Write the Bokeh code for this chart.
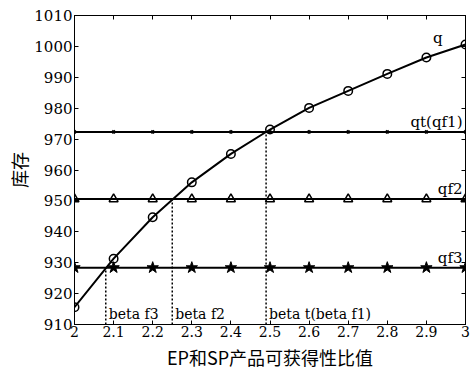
from bokeh.plotting import figure
from bokeh.models import Range1d, LinearAxis, FixedTicker, Label
from bokeh.embed import file_html
from bokeh.resources import INLINE

# ---- data ----
x_vals = [2.0, 2.1, 2.2, 2.3, 2.4, 2.5, 2.6, 2.7, 2.8, 2.9, 3.0]
q_vals = [915.6, 931.3, 944.7, 956.0, 965.2, 973.1, 980.1, 985.6, 991.1, 996.4, 1000.6]
qt_level = 972.3
qf2_level = 950.6
qf3_level = 928.4
beta_names = ["beta f3", "beta f2", "beta t(beta f1)"]
beta_x = [2.08, 2.25, 2.49]
beta_top = [qf3_level, qf2_level, qt_level]
x_ticks = [2.0, 2.1, 2.2, 2.3, 2.4, 2.5, 2.6, 2.7, 2.8, 2.9, 3.0]
y_ticks = [910, 920, 930, 940, 950, 960, 970, 980, 990, 1000, 1010]
x_tick_labels = {2.0: "2", 2.1: "2.1", 2.2: "2.2", 2.3: "2.3", 2.4: "2.4", 2.5: "2.5",
                 2.6: "2.6", 2.7: "2.7", 2.8: "2.8", 2.9: "2.9", 3.0: "3"}
x_label = "EP和SP产品可获得性比值"
y_label = "库存"

SERIF = "DejaVu Serif"
CJK = "Noto Sans CJK SC"

p = figure(width=470, height=373, output_backend="svg", toolbar_location=None,
           x_range=Range1d(2, 3), y_range=Range1d(910, 1010),
           min_border_left=74, min_border_right=5, min_border_top=15, min_border_bottom=49)
p.xgrid.visible = False
p.ygrid.visible = False
p.outline_line_color = "black"
p.outline_line_width = 1
p.background_fill_color = "white"
p.border_fill_color = "white"

def style_axis(ax):
    ax.axis_line_color = "black"
    ax.major_tick_line_color = "black"
    ax.major_tick_in = 4
    ax.major_tick_out = 0
    ax.minor_tick_line_color = None
    ax.major_label_text_font = SERIF
    ax.major_label_text_font_size = "15px"
    ax.major_label_text_color = "black"

xa = p.xaxis[0]
ya = p.yaxis[0]
xa.ticker = FixedTicker(ticks=x_ticks)
ya.ticker = FixedTicker(ticks=y_ticks)
xa.major_label_overrides = x_tick_labels
style_axis(xa)
style_axis(ya)
xa.major_label_text_font_size = "14px"
xa.major_label_standoff = 1
ya.major_label_standoff = 2
xa.axis_label = x_label
ya.axis_label = y_label
for ax in (xa, ya):
    ax.axis_label_text_font = CJK
    ax.axis_label_text_font_size = "18px"
    ax.axis_label_text_font_style = "normal"
    ax.axis_label_text_color = "black"
xa.axis_label_standoff = 4
ya.axis_label_standoff = -1

# box ticks on top and right (no labels)
top_ax = LinearAxis(ticker=FixedTicker(ticks=x_ticks),
                    major_label_overrides={t: "" for t in x_ticks})
right_ax = LinearAxis(ticker=FixedTicker(ticks=y_ticks),
                      major_label_overrides={t: "" for t in y_ticks})
for ax in (top_ax, right_ax):
    style_axis(ax)
    ax.major_label_standoff = 0
p.add_layout(top_ax, "above")
p.add_layout(right_ax, "right")

# horizontal lines
qt_vals = [qt_level] * len(x_vals)
qf2_vals = [qf2_level] * len(x_vals)
qf3_vals = [qf3_level] * len(x_vals)

p.line(x_vals, qt_vals, line_color="black", line_width=2)
p.scatter(x_vals, qt_vals, marker="x", size=4, line_color="black", line_width=2)

p.line(x_vals, qf2_vals, line_color="black", line_width=2)
p.scatter(x_vals, qf2_vals, marker="triangle", size=9, fill_color=None,
          line_color="black", line_width=1.5)

p.line(x_vals, qf3_vals, line_color="black", line_width=2)
p.scatter(x_vals, qf3_vals, marker="star", size=12, fill_color="black",
          line_color="black", line_width=1)

p.line(x_vals, q_vals, line_color="black", line_width=2)
p.scatter(x_vals, q_vals, marker="circle", size=8.5, fill_color=None,
          line_color="black", line_width=1.5)

# dotted verticals
p.segment(x0=beta_x, y0=[910] * 3, x1=beta_x, y1=beta_top,
          line_color="black", line_width=1.5, line_dash="2 2")

for name, bx in zip(beta_names, beta_x):
    p.add_layout(Label(x=bx, y=910, text=name, x_offset=3, y_offset=3,
                       text_font=SERIF, text_font_size="14px", text_color="black",
                       text_align="left", text_baseline="bottom"))

p.add_layout(Label(x=x_vals[-1], y=q_vals[-1], text="q", x_offset=-23, y_offset=-2,
                   text_font=SERIF, text_font_size="15px", text_color="black",
                   text_align="right", text_baseline="bottom"))
for name, lvl in [("qt(qf1)", qt_level), ("qf2", qf2_level), ("qf3", qf3_level)]:
    p.add_layout(Label(x=x_vals[-1], y=lvl, text=name, x_offset=-3, y_offset=1,
                       text_font=SERIF, text_font_size="15px", text_color="black",
                       text_align="right", text_baseline="bottom"))

open("out.html", "w").write(file_html(p, INLINE))
